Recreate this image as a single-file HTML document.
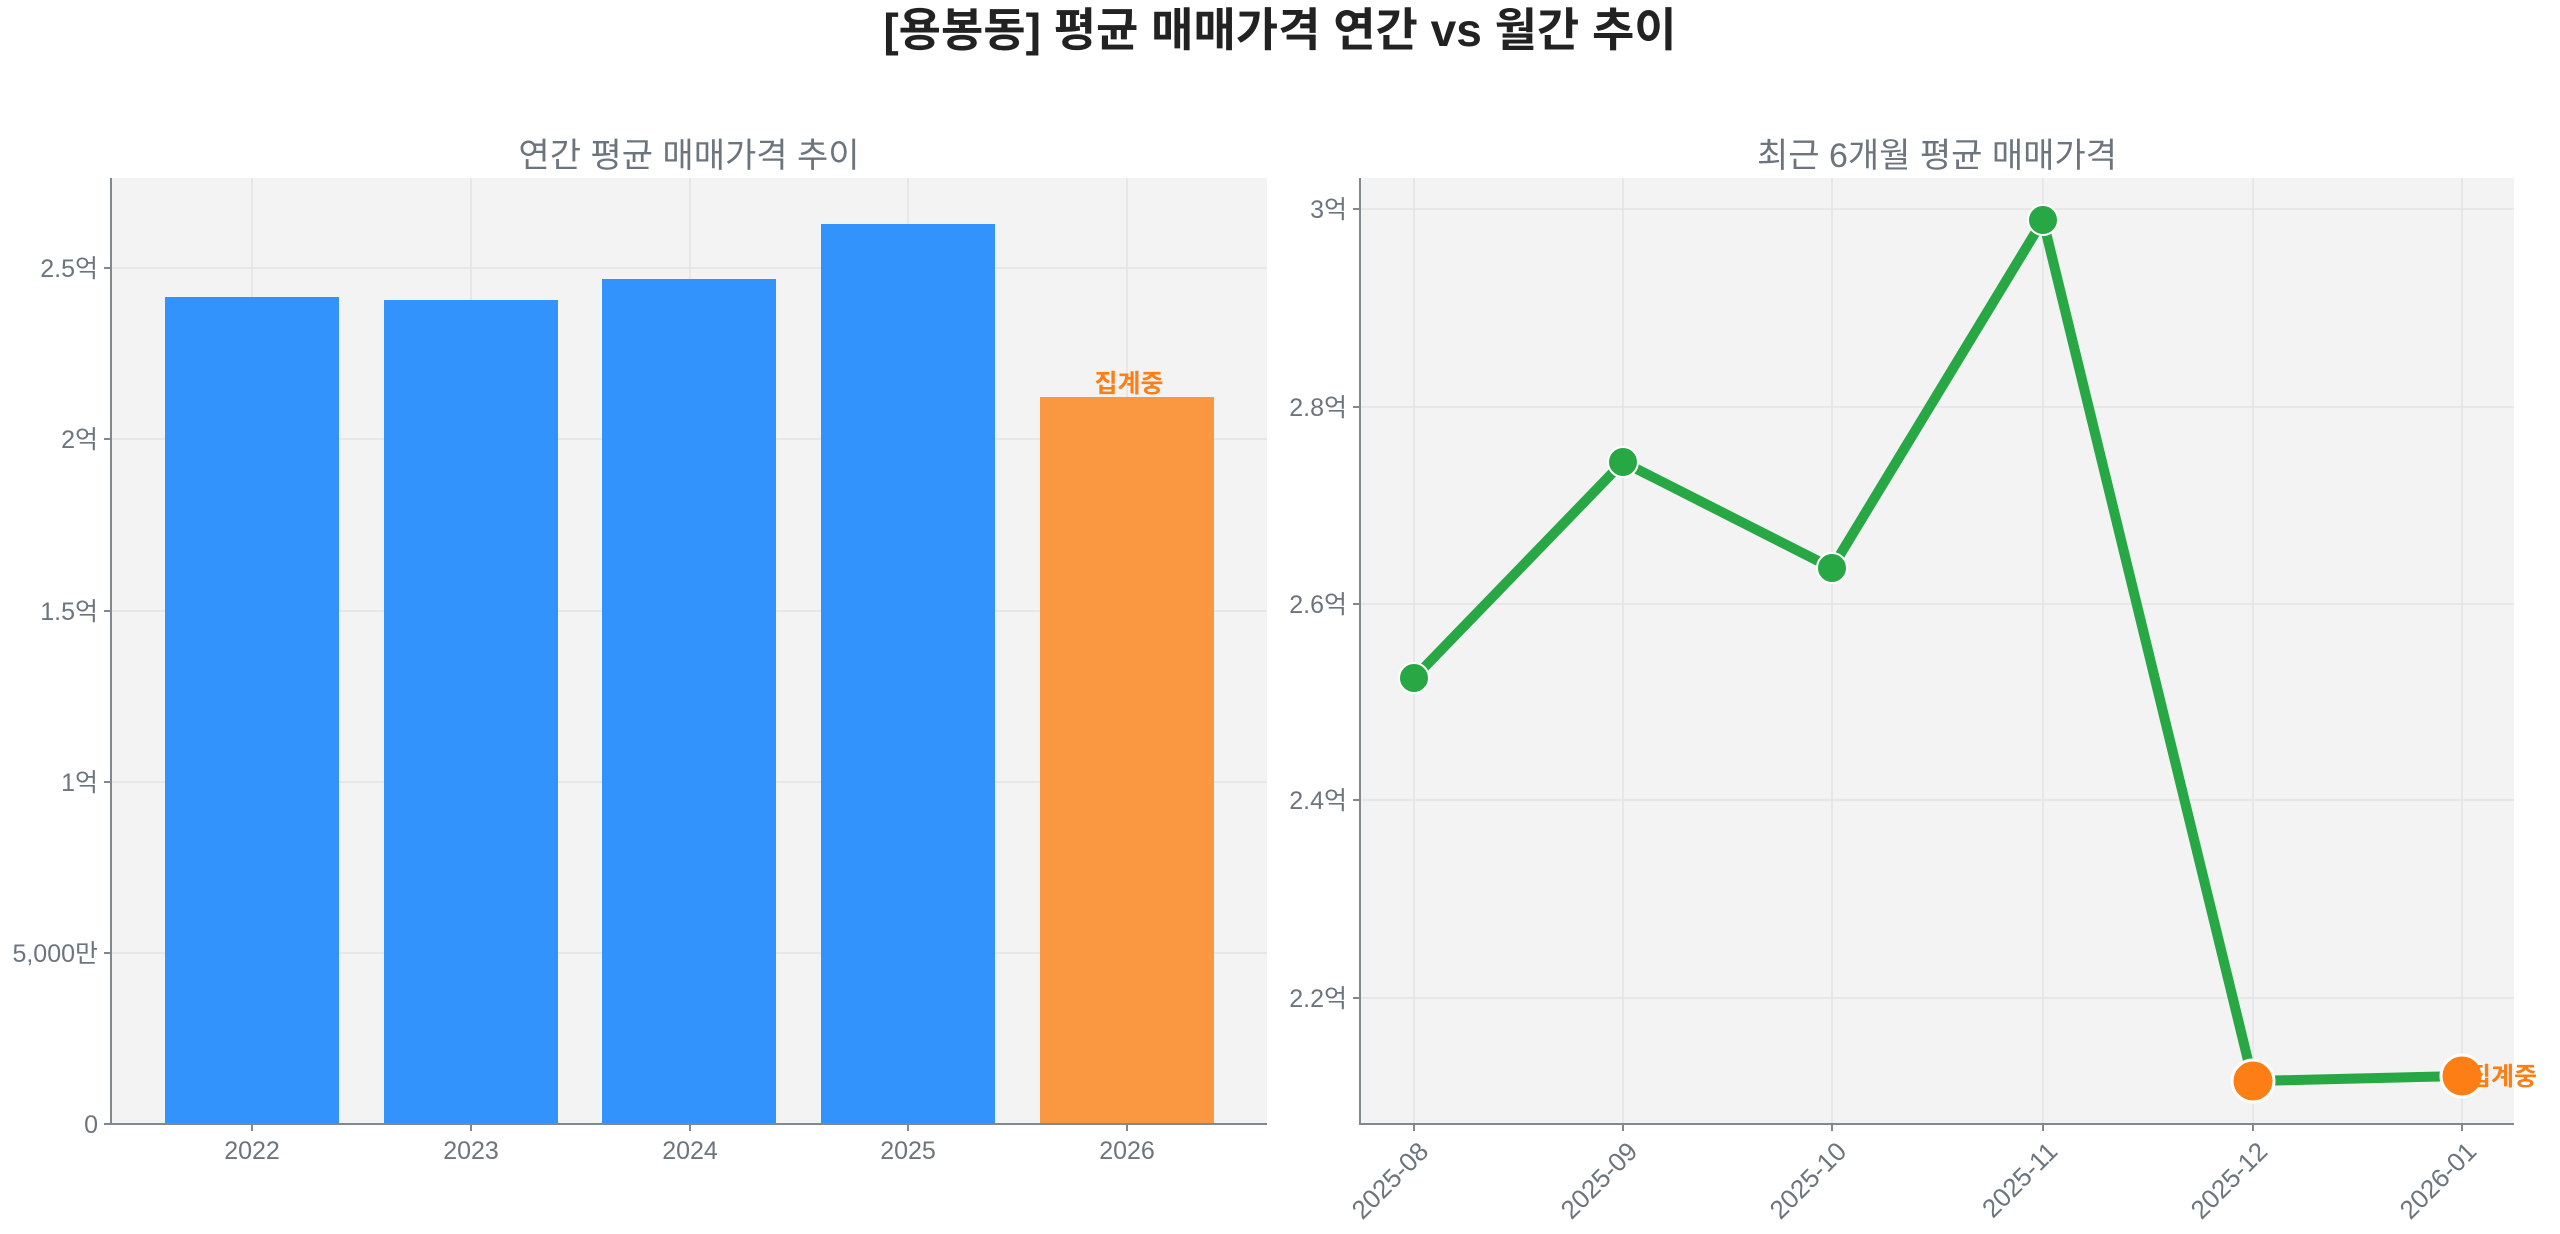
<!DOCTYPE html>
<html><head><meta charset="utf-8"><style>
html,body{margin:0;padding:0;background:#fff;}
svg{display:block;font-family:"Liberation Sans","Noto Sans CJK KR",sans-serif;}
</style></head><body>
<svg width="2560" height="1234" viewBox="0 0 2560 1234" xmlns="http://www.w3.org/2000/svg">
<text x="1280" y="46" text-anchor="middle" font-size="46" font-weight="bold" fill="#222">[용봉동] 평균 매매가격 연간 vs 월간 추이</text>

<!-- Left panel -->
<rect x="111" y="178" width="1156" height="946" fill="#f3f3f3"/>
<g stroke="#e3e3e3" stroke-width="1.5">
<line x1="111" x2="1267" y1="953" y2="953"/><line x1="111" x2="1267" y1="782" y2="782"/>
<line x1="111" x2="1267" y1="611" y2="611"/><line x1="111" x2="1267" y1="439" y2="439"/>
<line x1="111" x2="1267" y1="268" y2="268"/>
<line x1="252" x2="252" y1="178" y2="1124"/><line x1="471" x2="471" y1="178" y2="1124"/>
<line x1="690" x2="690" y1="178" y2="1124"/><line x1="908" x2="908" y1="178" y2="1124"/>
<line x1="1127" x2="1127" y1="178" y2="1124"/>
</g>
<g fill="#3193fb">
<rect x="165" y="297" width="174" height="827"/>
<rect x="384" y="300" width="174" height="824"/>
<rect x="602" y="279" width="174" height="845"/>
<rect x="821" y="224" width="174" height="900"/>
</g>
<rect x="1040" y="397" width="174" height="727" fill="#f99841"/>
<text x="1129" y="392" text-anchor="middle" font-size="25" font-weight="bold" fill="#fd7e14">집계중</text>
<line x1="111" y1="178" x2="111" y2="1125" stroke="#808890" stroke-width="2"/>
<line x1="110" y1="1124" x2="1267" y2="1124" stroke="#808890" stroke-width="2"/>
<g font-size="25" fill="#6c757d" text-anchor="end">
<text x="98" y="1133">0</text><text x="98" y="962">5,000만</text><text x="98" y="791">1억</text>
<text x="98" y="620">1.5억</text><text x="98" y="448">2억</text><text x="98" y="277">2.5억</text>
</g>
<g stroke="#808890" stroke-width="2">
<line x1="104" x2="111" y1="1124" y2="1124"/><line x1="104" x2="111" y1="953" y2="953"/><line x1="104" x2="111" y1="782" y2="782"/>
<line x1="104" x2="111" y1="611" y2="611"/><line x1="104" x2="111" y1="439" y2="439"/><line x1="104" x2="111" y1="268" y2="268"/>
<line x1="252" x2="252" y1="1124" y2="1131"/><line x1="471" x2="471" y1="1124" y2="1131"/><line x1="690" x2="690" y1="1124" y2="1131"/>
<line x1="908" x2="908" y1="1124" y2="1131"/><line x1="1127" x2="1127" y1="1124" y2="1131"/>
</g>
<g font-size="25" fill="#6c757d" text-anchor="middle">
<text x="252" y="1159">2022</text><text x="471" y="1159">2023</text><text x="690" y="1159">2024</text>
<text x="908" y="1159">2025</text><text x="1127" y="1159">2026</text>
</g>
<text x="689" y="167" text-anchor="middle" font-size="34" fill="#6c757d">연간 평균 매매가격 추이</text>

<!-- Right panel -->
<rect x="1360" y="178" width="1154" height="946" fill="#f3f3f3"/>
<g stroke="#e3e3e3" stroke-width="1.5">
<line x1="1360" x2="2514" y1="209" y2="209"/><line x1="1360" x2="2514" y1="407" y2="407"/>
<line x1="1360" x2="2514" y1="604" y2="604"/><line x1="1360" x2="2514" y1="800" y2="800"/>
<line x1="1360" x2="2514" y1="998" y2="998"/>
<line x1="1414" x2="1414" y1="178" y2="1124"/><line x1="1623" x2="1623" y1="178" y2="1124"/>
<line x1="1832" x2="1832" y1="178" y2="1124"/><line x1="2043" x2="2043" y1="178" y2="1124"/>
<line x1="2253" x2="2253" y1="178" y2="1124"/><line x1="2462" x2="2462" y1="178" y2="1124"/>
</g>
<polyline points="1414,678 1623,462 1832,568 2043,220 2253,1081 2462,1076" fill="none" stroke="#28a745" stroke-width="10" stroke-linejoin="round"/>
<g fill="#28a745" stroke="#fff" stroke-width="2">
<circle cx="1414" cy="678" r="15"/><circle cx="1623" cy="462" r="15"/>
<circle cx="1832" cy="568" r="15"/><circle cx="2043" cy="220" r="15"/>
</g>
<g fill="#fd7e14" stroke="#fff" stroke-width="3">
<circle cx="2253" cy="1081" r="21"/><circle cx="2462" cy="1076" r="21"/>
</g>
<text x="2468" y="1085" font-size="25" font-weight="bold" fill="#fd7e14">집계중</text>
<line x1="1360" y1="178" x2="1360" y2="1125" stroke="#808890" stroke-width="2"/>
<line x1="1359" y1="1124" x2="2514" y2="1124" stroke="#808890" stroke-width="2"/>
<g font-size="25" fill="#6c757d" text-anchor="end">
<text x="1347" y="218">3억</text><text x="1347" y="416">2.8억</text><text x="1347" y="613">2.6억</text>
<text x="1347" y="809">2.4억</text><text x="1347" y="1007">2.2억</text>
</g>
<g stroke="#808890" stroke-width="2">
<line x1="1353" x2="1360" y1="209" y2="209"/><line x1="1353" x2="1360" y1="407" y2="407"/><line x1="1353" x2="1360" y1="604" y2="604"/>
<line x1="1353" x2="1360" y1="800" y2="800"/><line x1="1353" x2="1360" y1="998" y2="998"/>
<line x1="1414" x2="1414" y1="1124" y2="1131"/><line x1="1623" x2="1623" y1="1124" y2="1131"/><line x1="1832" x2="1832" y1="1124" y2="1131"/>
<line x1="2043" x2="2043" y1="1124" y2="1131"/><line x1="2253" x2="2253" y1="1124" y2="1131"/><line x1="2462" x2="2462" y1="1124" y2="1131"/>
</g>
<g font-size="26" fill="#6c757d" text-anchor="end">
<text transform="translate(1430,1153) rotate(-45)">2025-08</text>
<text transform="translate(1639,1153) rotate(-45)">2025-09</text>
<text transform="translate(1848,1153) rotate(-45)">2025-10</text>
<text transform="translate(2059,1153) rotate(-45)">2025-11</text>
<text transform="translate(2269,1153) rotate(-45)">2025-12</text>
<text transform="translate(2478,1153) rotate(-45)">2026-01</text>
</g>
<text x="1937" y="167" text-anchor="middle" font-size="34" fill="#6c757d">최근 6개월 평균 매매가격</text>
</svg>
</body></html>
